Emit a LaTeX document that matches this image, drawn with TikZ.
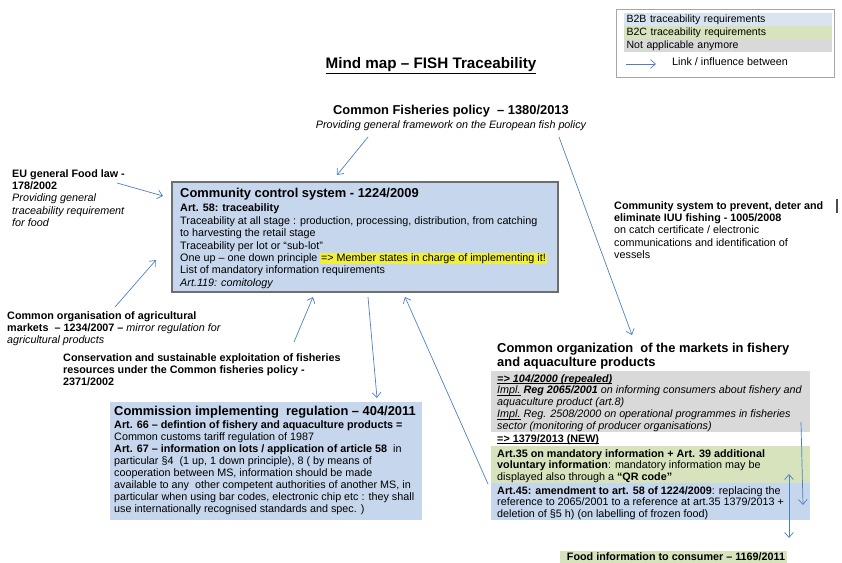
\documentclass[tikz,border=0pt]{standalone}
\usepackage{fontspec}
\setmainfont{Liberation Sans}
\usetikzlibrary{arrows.meta,positioning}
\definecolor{lnkblue}{RGB}{79,129,189}
\definecolor{bbblue}{RGB}{198,214,236}
\definecolor{legblue}{RGB}{218,228,241}
\definecolor{bcgreen}{RGB}{214,227,188}
\definecolor{nagrey}{RGB}{217,217,217}
\definecolor{hlyellow}{RGB}{240,240,60}
\definecolor{boxframe}{RGB}{110,110,110}
\newcommand{\markit}[1]{{\setlength{\fboxsep}{0.6pt}\colorbox{hlyellow}{#1}}}
\newcommand{\ulx}[1]{\setbox0\hbox{#1}\rlap{\rule[-1.4pt]{\wd0}{0.5pt}}\box0\relax}

\begin{document}
\begin{tikzpicture}[
  x=0.03cm, y=-0.03cm,
  txt/.style={anchor=north west, inner sep=0pt, align=left, font=\fontsize{9.2}{10.6}\selectfont},
  fillbox/.style={anchor=north west, inner sep=0pt},
  legrow/.style={anchor=north west, inner xsep=2pt, inner ysep=0pt, minimum width=6.24cm, minimum height=0.39cm, text width=6.1cm, align=left, font=\fontsize{9}{10.5}\selectfont},
  lnk/.style={-{Straight Barb[length=1.5mm,width=2.6mm]}, lnkblue, line width=0.6pt}
]
\useasboundingbox (0,0) rectangle (842,563);

% legend
\node[fillbox, draw=gray!70, line width=0.8pt, minimum width=6.54cm, minimum height=2.04cm] (legend) at (616,9) {};
\node[legrow, fill=legblue] (legb2b) at (624,13) {B2B traceability requirements};
\node[legrow, fill=bcgreen] (legb2c) at (624,26) {B2C traceability requirements};
\node[legrow, fill=nagrey] (legna) at (624,39) {Not applicable anymore};
\coordinate (legA) at (626,64);
\coordinate (legB) at (656,64);
\node[txt, anchor=west] (leglnk) at (672,62) {Link / influence between};

% title
\node[font=\fontsize{13}{15}\selectfont\bfseries, inner sep=0pt] (title) at (431,66) {\underline{Mind map – FISH Traceability}};

% top regulation
\node[txt, anchor=north, align=center] (cfp) at (451,105)
  {{\fontsize{11}{13}\selectfont\bfseries Common Fisheries policy\ \ – 1380/2013}\\[1.5pt]
   {\itshape Providing general framework on the European fish policy}};

% left side
\node[txt] (eu) at (12,169)
  {{\bfseries EU general Food law -}\\{\bfseries 178/2002}\\{\itshape Providing general}\\{\itshape traceability requirement}\\{\itshape for food}};
\node[txt] (agri) at (7,311)
  {{\bfseries Common organisation of agricultural}\\{\bfseries markets\ \ – 1234/2007 –} {\itshape mirror regulation for}\\{\itshape agricultural products}};
\node[txt, font=\fontsize{9.2}{10.6}\selectfont\bfseries] (cons) at (63,353)
  {Conservation and sustainable exploitation of fisheries\\resources under the Common fisheries policy -\\2371/2002};

% central box
\node[fillbox, fill=bbblue, draw=boxframe, line width=1.3pt, minimum width=11.58cm, minimum height=3.3cm] (ccs) at (171,181) {};
\node[txt] (ccstxt) at (180,188)
  {{\fontsize{11}{13}\selectfont\bfseries Community control system - 1224/2009}\\[1.5pt]
   {\bfseries Art. 58: traceability}\\
   Traceability at all stage : production, processing, distribution, from catching\\
   to harvesting the retail stage\\
   Traceability per lot or “sub-lot”\\
   One up – one down principle \markit{=> Member states in charge of implementing it!}\\
   List of mandatory information requirements\\
   {\itshape Art.119: comitology}};

% IUU
\node[txt] (iuu) at (614,201)
  {{\bfseries Community system to prevent, deter and}\\{\bfseries eliminate IUU fishing - 1005/2008}\\on catch certificate / electronic\\communications and identification of\\vessels};
\draw[line width=1pt, black!70] (837,199) -- (837,213);

% commission implementing regulation
\node[fillbox, fill=bbblue, minimum width=9.36cm, minimum height=3.54cm] (cir) at (110,402) {};
\node[txt, font=\fontsize{9.2}{10.3}\selectfont] (cirtxt) at (114,406)
  {{\fontsize{11}{13}\selectfont\bfseries Commission implementing\ \ regulation – 404/2011}\\[0.5pt]
   {\bfseries Art. 66 – defintion of fishery and aquaculture products =}\\
   Common customs tariff regulation of 1987\\
   {\bfseries Art. 67 – information on lots / application of article 58}\ \ in\\
   particular §4\ \ (1 up, 1 down principle), 8 ( by means of\\
   cooperation between MS, information should be made\\
   available to any\ \ other competent authorities of another MS, in\\
   particular when using bar codes, electronic chip etc : they shall\\
   use internationally recognised standards and spec. )};

% common organization of the markets
\node[txt, font=\fontsize{11}{12}\selectfont\bfseries] (cofm) at (497,343)
  {Common organization\ \ of the markets in fishery\\and aquaculture products};
\node[fillbox, fill=nagrey, minimum width=9.57cm, minimum height=1.83cm] (old) at (491,371) {};
\node[txt, font=\fontsize{9.2}{10.1}\selectfont\itshape] (oldtxt) at (497,374)
  {{\bfseries\ulx{=> 104/2000 (repealed)}}\\
   \ulx{Impl.} {\bfseries Reg 2065/2001} on informing consumers about fishery and\\
   aquaculture product (art.8)\\
   \ulx{Impl.} Reg. 2508/2000 on operational programmes in fisheries\\
   sector (monitoring of producer organisations)};
\node[txt, font=\fontsize{9.2}{10.1}\selectfont\bfseries] (new) at (497,434) {\ulx{=> 1379/2013 (NEW)}};
\node[fillbox, fill=bcgreen, minimum width=9.57cm, minimum height=1.11cm] (newc) at (491,446) {};
\node[txt, font=\fontsize{9.2}{10.1}\selectfont] (newctxt) at (497,449)
  {{\bfseries Art.35 on mandatory information + Art. 39 additional}\\
   {\bfseries voluntary information}: mandatory information may be\\
   displayed also through a {\bfseries “QR code”}};
\node[fillbox, fill=bbblue, minimum width=9.57cm, minimum height=1.11cm] (newb) at (491,483) {};
\node[txt, font=\fontsize{9.2}{10.1}\selectfont] (newbtxt) at (497,486)
  {{\bfseries Art.45: amendment to art. 58 of 1224/2009}: replacing the\\
   reference to 2065/2001 to a reference at art.35 1379/2013 +\\
   deletion of §5 h) (on labelling of frozen food)};

% food information
\node[fillbox, fill=bcgreen, minimum width=6.81cm, minimum height=0.45cm] (fic) at (560,551) {};
\node[txt, anchor=north, font=\fontsize{9.2}{10}\selectfont\bfseries] (fictxt) at (676,552.5) {Food information to consumer – 1169/2011};

% link end points
\coordinate (cfpA) at (368,137);
\coordinate (ccsA) at (337,175);
\coordinate (cfpB) at (559,137);
\coordinate (cofmA) at (632,335);
\coordinate (euA) at (117,183);
\coordinate (ccsB) at (163,196);
\coordinate (agriA) at (115,307);
\coordinate (ccsC) at (156,260);
\coordinate (consA) at (294,342);
\coordinate (ccsD) at (313,297);
\coordinate (ccsE) at (368,297);
\coordinate (cirA) at (377,398);
\coordinate (newbA) at (488,484);
\coordinate (ccsF) at (405,297);
\coordinate (oldA) at (801,422);
\coordinate (newbB) at (803,505);
\coordinate (newcA) at (789,474);
\coordinate (ficA) at (789,538);

% links
\draw[lnk] (legA) -- (legB);
\draw[lnk] (cfpA) -- (ccsA);
\draw[lnk] (cfpB) -- (cofmA);
\draw[lnk] (euA) -- (ccsB);
\draw[lnk] (agriA) -- (ccsC);
\draw[lnk] (consA) -- (ccsD);
\draw[lnk] (ccsE) -- (cirA);
\draw[lnk] (newbA) -- (ccsF);
\draw[lnk] (oldA) -- (newbB);
\draw[lnk, {Straight Barb[length=1.5mm,width=2.6mm]}-{Straight Barb[length=1.5mm,width=2.6mm]}] (newcA) -- (ficA);
\end{tikzpicture}
\end{document}
